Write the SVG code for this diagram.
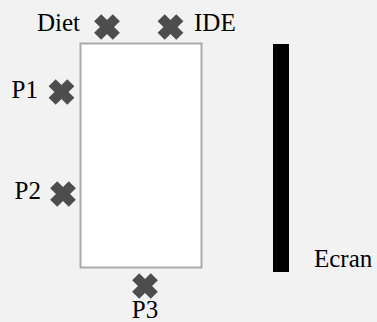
<svg xmlns="http://www.w3.org/2000/svg" width="377" height="322" viewBox="0 0 377 322">
<defs>
<style>
.lbl{font-family:"Liberation Serif","Times New Roman",serif;font-size:25px;fill:#000}
.x{fill:#4d4d4d}
</style>
<g id="cross">
<rect x="-13.2" y="-5" width="26.4" height="10" transform="rotate(45)"/>
<rect x="-13.2" y="-5" width="26.4" height="10" transform="rotate(-45)"/>
</g>
</defs>
<rect width="377" height="322" fill="#f2f2f2"/>
<g id="room">
<rect x="80.5" y="43.5" width="121" height="224" fill="#fff" stroke="#aaa" stroke-width="2"/>
</g>
<g id="ecran">
<rect x="273" y="44" width="16" height="228" fill="#000"/>
<text class="lbl" x="314" y="267">Ecran</text>
</g>
<g id="diet">
<use href="#cross" class="x" x="107" y="27"/>
<text class="lbl" x="80" y="31" text-anchor="end">Diet</text>
</g>
<g id="ide">
<use href="#cross" class="x" x="170.5" y="27"/>
<text class="lbl" x="194" y="31">IDE</text>
</g>
<g id="p1">
<use href="#cross" class="x" x="61.5" y="92"/>
<text class="lbl" x="38" y="98" text-anchor="end">P1</text>
</g>
<g id="p2">
<use href="#cross" class="x" x="63" y="194"/>
<text class="lbl" x="41" y="199" text-anchor="end">P2</text>
</g>
<g id="p3">
<use href="#cross" class="x" x="145" y="286"/>
<text class="lbl" x="145" y="318" text-anchor="middle">P3</text>
</g>
<g id="connectors"/>
</svg>
